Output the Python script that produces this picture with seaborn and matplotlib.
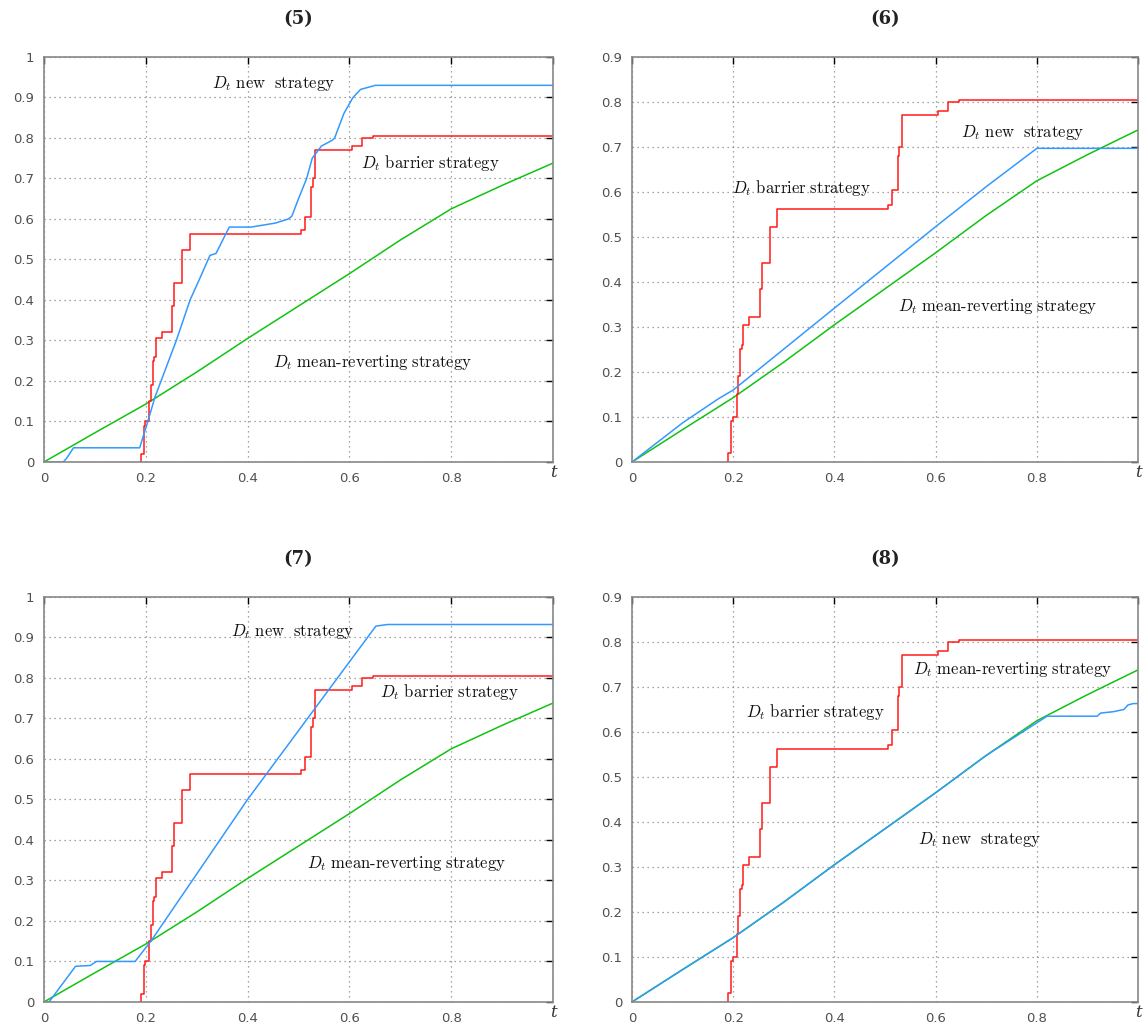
import numpy as np
import matplotlib
matplotlib.use("Agg")
import matplotlib.pyplot as plt
import seaborn as sns

# barrier strategy (same step path in all four panels), value holds from t onward
barrier_t = [0.188, 0.190, 0.196, 0.199, 0.207, 0.210, 0.214, 0.217, 0.220, 0.232,
             0.252, 0.256, 0.272, 0.287, 0.505, 0.513, 0.525, 0.528, 0.533, 0.605,
             0.625, 0.646, 1.0]
barrier_d = [0.0, 0.02, 0.09, 0.10, 0.15, 0.19, 0.25, 0.26, 0.305, 0.322,
             0.385, 0.443, 0.523, 0.562, 0.572, 0.605, 0.68, 0.70, 0.77, 0.78,
             0.80, 0.805, 0.805]

# mean-reverting strategy (same in all panels)
mean_t = [0.0, 0.1, 0.2, 0.3, 0.4, 0.5, 0.6, 0.7, 0.8, 0.9, 1.0]
mean_d = [0.0, 0.072, 0.143, 0.222, 0.305, 0.385, 0.465, 0.548, 0.625, 0.683, 0.738]

# new strategy, one path per panel
new5_t = [0.0, 0.038, 0.045, 0.058, 0.188, 0.204, 0.218, 0.26, 0.287, 0.305, 0.326,
          0.338, 0.364, 0.407, 0.455, 0.48, 0.487, 0.50, 0.516, 0.527, 0.545, 0.567,
          0.571, 0.589, 0.607, 0.622, 0.651, 1.0]
new5_d = [0.0, 0.0, 0.01, 0.035, 0.035, 0.10, 0.16, 0.30, 0.40, 0.45, 0.51,
          0.515, 0.58, 0.58, 0.59, 0.60, 0.607, 0.65, 0.70, 0.75, 0.78, 0.795,
          0.80, 0.86, 0.90, 0.92, 0.93, 0.93]
new6_t = [0.0, 0.1, 0.17, 0.2, 0.4, 0.6, 0.7, 0.8, 1.0]
new6_d = [0.0, 0.087, 0.14, 0.16, 0.342, 0.523, 0.612, 0.697, 0.697]
new7_t = [0.0, 0.01, 0.062, 0.091, 0.103, 0.179, 0.21, 0.4, 0.652, 0.675, 1.0]
new7_d = [0.0, 0.0, 0.088, 0.09, 0.10, 0.10, 0.15, 0.50, 0.928, 0.932, 0.932]
new8_t = [0.0, 0.1, 0.2, 0.3, 0.4, 0.5, 0.6, 0.7, 0.82, 0.919, 0.926, 0.951,
          0.972, 0.98, 0.99, 1.0]
new8_d = [0.0, 0.072, 0.143, 0.222, 0.305, 0.385, 0.465, 0.548, 0.635, 0.635,
          0.642, 0.645, 0.65, 0.66, 0.663, 0.663]

titles = ["(5)", "(6)", "(7)", "(8)"]
y_tops = [1.0, 0.9, 1.0, 0.9]
new_paths = [(new5_t, new5_d), (new6_t, new6_d), (new7_t, new7_d), (new8_t, new8_d)]

# label anchors (left edge, vertical centre) for new / barrier / mean-reverting
label_pos = [
    [(0.33, 0.935), (0.622, 0.738), (0.449, 0.245)],
    [(0.65, 0.733), (0.198, 0.608), (0.526, 0.345)],
    [(0.368, 0.914), (0.66, 0.766), (0.516, 0.341)],
    [(0.565, 0.361), (0.226, 0.644), (0.556, 0.739)],
]
label_text = [r"$D_t\ \mathrm{new\ \ strategy}$",
              r"$D_t\ \mathrm{barrier\ strategy}$",
              r"$D_t\ \mathrm{mean\text{-}reverting\ strategy}$"]

sns.set_style("white")
plt.rcParams["mathtext.fontset"] = "cm"
plt.rcParams["font.family"] = ["DejaVu Sans"]

RED = "#ff1a1a"
BLUE = "#3399ff"
GREEN = "#11c211"

fig = plt.figure(figsize=(11.45, 10.25), dpi=100)
boxes = [[0.0384, 0.5493, 0.4446, 0.3951],
         [0.5520, 0.5493, 0.4420, 0.3951],
         [0.0384, 0.0225, 0.4446, 0.3951],
         [0.5520, 0.0225, 0.4420, 0.3951]]

for i, box in enumerate(boxes):
    ax = fig.add_axes(box)
    ytop = y_tops[i]

    sns.lineplot(x=mean_t, y=mean_d, ax=ax, color=GREEN, linewidth=1.1,
                 estimator=None, sort=False)
    sns.lineplot(x=barrier_t, y=barrier_d, ax=ax, color=RED, linewidth=1.1,
                 drawstyle="steps-post", estimator=None, sort=False)
    nt, nd = new_paths[i]
    sns.lineplot(x=nt, y=nd, ax=ax, color=BLUE, linewidth=1.1,
                 estimator=None, sort=False)

    ax.set_xlim(0, 1)
    ax.set_ylim(0, ytop)
    ax.set_xticks([0, 0.2, 0.4, 0.6, 0.8, 1.0])
    ax.set_xticklabels(["0", "0.2", "0.4", "0.6", "0.8", ""])
    yt = np.round(np.arange(0, ytop + 0.01, 0.1), 1)
    ax.set_yticks(yt)
    ax.set_yticklabels(["0" if v == 0 else ("1" if v == 1 else f"{v:.1f}") for v in yt])
    ax.grid(True, linestyle=(0, (1, 3)), color="#888888", linewidth=0.9)
    ax.tick_params(direction="in", top=True, right=True, length=5, width=1,
                   color="black", labelsize=9.5, labelcolor="#505050", pad=7)
    # axis name "t" sits where the last tick label would be
    ax.annotate("t", xy=(1, 0), xycoords="axes fraction", xytext=(0, -11),
                textcoords="offset points", ha="center", va="baseline",
                fontsize=12, family="DejaVu Serif", style="italic", color="#333333")
    for sp in ax.spines.values():
        sp.set_color("#888888")
        sp.set_linewidth(1.2)
    ax.set_xlabel("")
    ax.set_ylabel("")

    ax.set_title(titles[i], fontsize=13, fontweight="bold", family="DejaVu Serif",
                 pad=24, color="#222222")

    for (lx, ly), txt in zip(label_pos[i], label_text):
        ax.text(lx, ly, txt, fontsize=12, va="center", ha="left", color="#111111")

fig.savefig("out.png", dpi=100)
